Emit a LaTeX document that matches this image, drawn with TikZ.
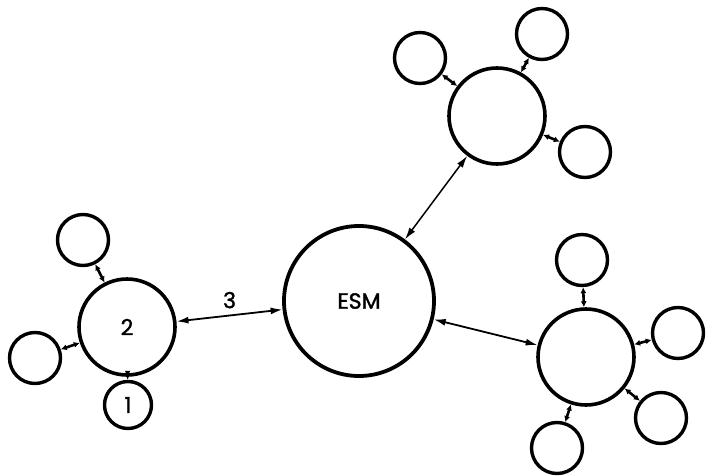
\documentclass[tikz,border=0pt]{standalone}
\usepackage{fontspec}
\setmainfont{Poppins}
\newfontfamily\labfont[FakeBold=1.5]{Poppins}
\usetikzlibrary{arrows.meta}
\begin{document}
\begin{tikzpicture}[x=1pt,y=-1pt,
  lab/.style={font=\labfont\fontsize{22}{24}\selectfont},
  big/.style={circle,draw,line width=3.6pt,minimum size=96pt,inner sep=0pt,lab},
  esm/.style={circle,draw,line width=3.8pt,minimum size=150pt,inner sep=0pt,lab},
  small/.style={circle,draw,line width=3.4pt,minimum size=51pt,inner sep=0pt,lab},
  shortarr/.style={line width=2.6pt,{Latex[length=6pt,width=6pt]}-{Latex[length=6pt,width=6pt]}},
  longarr/.style={line width=1.8pt,{Latex[length=12pt,width=7pt]}-{Latex[length=12pt,width=7pt]}}]
\useasboundingbox (0,0) rectangle (706,476);
% left cluster
\node[big] (n2) at (127,327) {2};
\node[small] (l1) at (83,240) {};
\node[small] (l2) at (35,358) {};
\node[small,minimum size=47pt] (l3) at (128,405) {1};
% ESM
\node[esm] (esm) at (359,301) {ESM};
% top cluster
\node[big] (t) at (497,116) {};
\node[small] (t1) at (420,58) {};
\node[small] (t2) at (542,34) {};
\node[small] (t3) at (585,152) {};
% right cluster
\node[big] (r) at (586,357) {};
\node[small] (r1) at (582,260) {};
\node[small] (r2) at (678,333) {};
\node[small] (r3) at (661,418) {};
\node[small] (r4) at (557,448) {};
% short connectors
\foreach \a/\b in {n2/l1,n2/l2,n2/l3,t/t1,t/t2,t/t3,r/r1,r/r2,r/r3,r/r4}
  \draw[shortarr] (\a) -- (\b);
% long connectors
\draw[longarr] (n2) -- node[above=3pt,lab] {3} (esm);
\draw[longarr,line width=1.5pt] (t) -- (esm);
\draw[longarr] (r) -- (esm);
\end{tikzpicture}
\end{document}
